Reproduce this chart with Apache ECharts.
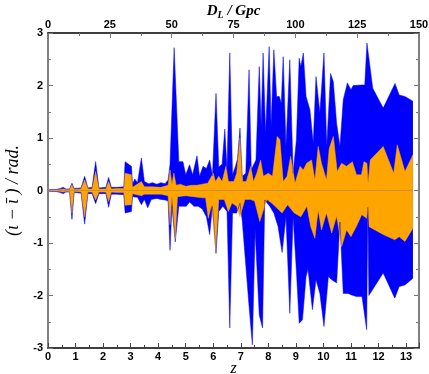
<!DOCTYPE html>
<html>
<head>
<meta charset="utf-8">
<script src="https://cdn.jsdelivr.net/npm/echarts@6/dist/echarts.min.js"></script>
<style>
  html, body { margin: 0; padding: 0; background: #fff; }
  #chart { width: 429px; height: 374px; }
</style>
</head>
<body>
<div id="chart"></div>
<script>
// blue band: upper / lower envelope (z, value in rad.)
const blueUpZ = [0.05,0.3,0.45,0.55,0.65,0.78,0.87,0.95,1.2,1.33,1.45,1.6,1.73,1.85,2.1,2.2,2.3,2.5,2.75,2.8,3.03,3.07,3.15,3.25,3.39,3.5,3.65,3.8,3.95,4.1,4.25,4.36,4.43,4.58,4.75,4.9,5.0,5.14,5.25,5.41,5.5,5.63,5.75,5.87,5.97,6.1,6.2,6.32,6.42,6.5,6.6,6.7,6.8,6.88,6.97,7.05,7.18,7.3,7.38,7.55,7.67,7.74,7.81,7.9,8.03,8.1,8.2,8.3,8.4,8.47,8.54,8.64,8.78,8.9,9.02,9.12,9.18,9.27,9.37,9.51,9.63,9.73,9.87,10.02,10.12,10.26,10.36,10.48,10.6,10.72,10.87,11.0,11.08,11.39,11.5,11.58,11.79,12.17,12.6,12.75,12.96,13.25];
const blueUp  = [0.02,0.02,0.04,0.06,0.03,0.03,0.14,0.04,0.05,0.27,0.05,0.06,0.55,0.05,0.06,0.25,0.06,0.06,0.07,0.55,0.46,0.12,0.22,0.15,0.62,0.17,0.13,0.15,0.12,0.15,0.13,0.2,0.5,2.72,0.55,0.55,0.3,0.49,0.3,0.66,0.27,0.46,0.42,0.58,0.28,1.85,0.45,0.5,1.17,0.4,2.62,0.3,0.45,0.6,1.19,0.27,0.33,2.3,0.4,0.58,2.36,1.22,2.62,1.1,2.74,1.22,2.68,1.79,1.79,1.66,2.55,0.84,2.49,0.33,0.97,2.52,2.36,2.62,1.79,1.54,0.9,2.17,1.48,2.62,0.84,2.23,2.07,1.27,0.84,1.73,2.05,1.92,2.0,2.01,2.01,2.81,1.95,1.57,2.04,1.82,1.79,1.7];
const blueLoZ = [0.05,0.3,0.45,0.55,0.65,0.78,0.87,0.95,1.2,1.33,1.45,1.6,1.73,1.85,2.1,2.2,2.3,2.5,2.75,2.8,3.03,3.07,3.25,3.39,3.5,3.62,3.75,3.95,4.1,4.25,4.36,4.43,4.5,4.62,4.75,4.9,5.02,5.14,5.3,5.45,5.6,5.75,5.87,5.97,6.1,6.2,6.35,6.5,6.6,6.7,6.85,6.97,7.05,7.31,7.42,7.52,7.67,7.79,7.87,8.05,8.2,8.35,8.5,8.64,8.78,8.9,9.03,9.12,9.24,9.37,9.44,9.6,9.73,9.87,10.02,10.18,10.3,10.48,10.6,10.72,10.9,11.02,11.2,11.4,11.57,11.61,11.65,12.17,12.59,12.75,12.96,13.25];
const blueLo  = [-0.02,-0.02,-0.04,-0.06,-0.03,-0.03,-0.55,-0.04,-0.05,-0.64,-0.06,-0.06,-0.25,-0.06,-0.06,-0.32,-0.07,-0.07,-0.08,-0.43,-0.4,-0.12,-0.13,-0.27,-0.17,-0.33,-0.17,-0.15,-0.17,-0.18,-0.2,-1.14,-0.3,-0.98,-0.3,-0.3,-0.3,-0.22,-0.3,-0.3,-0.35,-0.5,-0.84,-0.3,-1.2,-0.4,-0.3,-0.4,-2.62,-0.43,-0.43,-0.24,-0.56,-2.27,-2.94,-0.75,-2.37,-2.62,-0.18,-0.3,-0.43,-0.68,-1.18,-0.5,-2.34,-0.5,-1.64,-2.53,-2.46,-1.64,-1.5,-2.27,-1.7,-1.96,-2.59,-1.64,-1.7,-1.76,-0.6,-1.96,-1.96,-1.99,-2.02,-2.02,-2.65,-0.32,-2.0,-1.57,-2.05,-1.83,-1.8,-1.67];

// orange band: upper / lower envelope
const orangeUpZ = [0.05,0.3,0.45,0.55,0.65,0.78,0.87,0.95,1.2,1.33,1.45,1.6,1.73,1.85,2.1,2.2,2.3,2.5,2.75,2.8,3.03,3.07,3.39,3.5,3.8,4.1,4.36,4.43,4.5,4.57,4.65,4.8,5.0,5.2,5.4,5.6,5.8,6.0,6.08,6.2,6.32,6.46,6.55,6.75,6.85,6.97,7.07,7.2,7.36,7.46,7.58,7.72,7.82,8.0,8.15,8.32,8.42,8.54,8.68,8.81,8.97,9.15,9.27,9.39,9.57,9.69,9.81,9.93,10.11,10.21,10.36,10.5,10.66,10.84,11.05,11.2,11.38,11.47,11.58,11.62,11.7,12.17,12.55,12.68,12.96,13.25];
const orangeUp  = [0.01,0.01,0.02,0.03,0.02,0.02,0.11,0.02,0.03,0.2,0.03,0.03,0.36,0.03,0.03,0.17,0.03,0.04,0.04,0.33,0.3,0.06,0.17,0.07,0.07,0.06,0.1,0.39,0.12,0.33,0.1,0.12,0.08,0.1,0.1,0.12,0.14,0.33,0.17,0.27,0.17,0.46,0.17,0.17,0.33,1.0,0.17,0.17,0.46,0.17,0.33,0.58,0.27,0.33,0.27,1.03,0.97,0.17,0.27,0.65,0.14,0.46,0.39,0.52,0.58,0.2,0.84,0.52,0.2,0.8,1.03,0.36,0.52,0.46,0.55,0.3,0.3,0.55,0.52,0.14,0.58,0.84,0.33,0.87,0.36,0.68];
const orangeLoZ = [0.05,0.3,0.45,0.55,0.65,0.78,0.87,0.95,1.2,1.33,1.45,1.6,1.73,1.85,2.1,2.2,2.3,2.5,2.75,2.8,3.03,3.07,3.39,3.5,3.8,4.1,4.36,4.43,4.5,4.62,4.7,5.0,5.3,5.6,5.72,5.82,5.94,6.09,6.2,6.4,6.55,6.68,6.85,6.97,7.15,7.35,7.5,7.69,7.94,8.12,8.3,8.5,8.7,8.94,9.18,9.4,9.54,9.69,9.81,9.93,10.11,10.3,10.48,10.66,10.84,11.0,11.2,11.39,11.57,11.62,11.66,12.17,12.59,12.75,12.96,13.25];
const orangeLo  = [-0.01,-0.01,-0.02,-0.03,-0.02,-0.02,-0.43,-0.02,-0.03,-0.5,-0.03,-0.03,-0.18,-0.03,-0.03,-0.21,-0.03,-0.04,-0.04,-0.28,-0.27,-0.06,-0.1,-0.07,-0.07,-0.07,-0.1,-0.65,-0.1,-0.93,-0.12,-0.1,-0.12,-0.14,-0.14,-0.53,-0.27,-1.13,-0.17,-0.17,-0.4,-0.24,-0.3,-0.5,-0.17,-0.17,-0.2,-0.59,-0.17,-0.24,-0.33,-0.43,-0.27,-0.43,-0.5,-0.3,-0.69,-0.91,-0.37,-0.75,-0.43,-0.81,-0.49,-1.07,-0.75,-0.88,-0.68,-0.46,-0.53,-0.3,-0.69,-0.84,-0.94,-0.88,-0.97,-0.72];

const zMax = 13.47;
const dlMax = 150;

function pairs(zs, vs) {
  return zs.map((z, i) => [z, vs[i]]);
}

function band(data, color) {
  return {
    type: "line",
    data: data,
    xAxisIndex: 0,
    yAxisIndex: 0,
    showSymbol: false,
    symbol: "none",
    smooth: false,
    lineStyle: { width: 0.5, color: color },
    areaStyle: { color: color, opacity: 1 },
    silent: true
  };
}

const labelStyle = {
  color: "#000",
  fontFamily: "Liberation Sans",
  fontWeight: "bold",
  fontSize: 11
};
const titleFont = {
  color: "#000",
  fontFamily: "Liberation Serif",
  fontStyle: "italic",
  fontSize: 16
};

const chart = echarts.init(document.getElementById("chart"), null, { renderer: "canvas" });

const option = {
  animation: false,
  backgroundColor: "#fff",
  grid: { left: 48, right: 10, top: 33, bottom: 26, containLabel: false, outerBoundsMode: "none" },
  xAxis: [
    {
      type: "value",
      position: "bottom",
      min: 0,
      max: zMax,
      interval: 1,
      name: "z",
      nameLocation: "middle",
      nameGap: 13,
      nameMoveOverlap: false,
      nameTextStyle: titleFont,
      axisLine: { show: true, onZero: false, lineStyle: { color: "#000", width: 1.5 } },
      axisTick: { show: true, inside: true, length: 5, lineStyle: { color: "#444" } },
      minorTick: { show: true, splitNumber: 2, length: 3, lineStyle: { color: "#444" } },
      axisLabel: Object.assign({ margin: 3, showMaxLabel: false }, labelStyle),
      splitLine: { show: false }
    },
    {
      type: "value",
      position: "top",
      min: 0,
      max: dlMax,
      interval: 25,
      name: "{a|D}{s|L}{a| / Gpc}",
      nameLocation: "middle",
      nameGap: 13,
      nameMoveOverlap: false,
      nameTextStyle: {
        rich: {
          a: { fontFamily: "Liberation Serif", fontStyle: "italic", fontWeight: "bold", fontSize: 15, color: "#000" },
          s: { fontFamily: "Liberation Serif", fontStyle: "italic", fontWeight: "bold", fontSize: 10, color: "#000", verticalAlign: "bottom", padding: [8, 0, 0, 0] }
        }
      },
      axisLine: { show: true, onZero: false, lineStyle: { color: "#000", width: 1.5 } },
      axisTick: { show: true, inside: true, length: 5, lineStyle: { color: "#777" } },
      minorTick: { show: true, splitNumber: 2, length: 3, lineStyle: { color: "#777" } },
      axisLabel: Object.assign({ margin: 3 }, labelStyle),
      splitLine: { show: false }
    }
  ],
  yAxis: [
    {
      type: "value",
      position: "left",
      min: -3,
      max: 3,
      interval: 1,
      name: "(ι − ῑ ) / rad.",
      nameLocation: "middle",
      nameRotate: 90,
      nameGap: 26,
      nameMoveOverlap: false,
      nameTextStyle: Object.assign({}, titleFont, { fontSize: 18 }),
      axisLine: { show: true, onZero: false, lineStyle: { color: "#808080", width: 2 } },
      axisTick: { show: true, inside: true, length: 5, lineStyle: { color: "#777" } },
      minorTick: { show: true, splitNumber: 2, length: 3, lineStyle: { color: "#777" } },
      axisLabel: Object.assign({ margin: 5 }, labelStyle),
      splitLine: { show: false }
    },
    {
      type: "value",
      position: "right",
      min: -3,
      max: 3,
      interval: 1,
      axisLine: { show: true, onZero: false, lineStyle: { color: "#808080", width: 2 } },
      axisTick: { show: true, inside: true, length: 5, lineStyle: { color: "#777" } },
      minorTick: { show: true, splitNumber: 2, length: 3, lineStyle: { color: "#777" } },
      axisLabel: { show: false },
      splitLine: { show: false }
    }
  ],
  series: [
    band(pairs(blueUpZ, blueUp), "#0000ff"),
    band(pairs(blueLoZ, blueLo), "#0000ff"),
    band(pairs(orangeUpZ, orangeUp), "#ffa500"),
    band(pairs(orangeLoZ, orangeLo), "#ffa500")
  ]
};

chart.setOption(option);
</script>
</body>
</html>
